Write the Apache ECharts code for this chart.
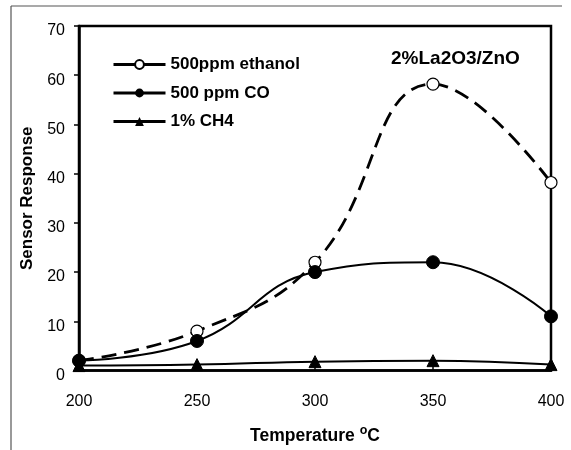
<!DOCTYPE html>
<html>
<head>
<meta charset="utf-8">
<script src="https://cdn.jsdelivr.net/npm/echarts@6/dist/echarts.min.js"></script>
<style>
html,body{margin:0;padding:0;background:#fff;}
#chart{width:571px;height:450px;}
</style>
</head>
<body>
<div id="chart"></div>
<script>
const temperatures = [200, 250, 300, 350, 400];
const ethanol = [2, 8, 22, 58.2, 38.2];
const co = [2, 6, 20, 22, 11];
const ch4 = [1, 1.2, 1.8, 2, 1.2];
const seriesNames = ['500ppm ethanol', '500 ppm CO', '1% CH4'];
const chartLabel = '2%La2O3/ZnO';

const F = '"Liberation Sans", Arial, sans-serif';
const pairs = arr => temperatures.map((t, i) => [t, arr[i]]);

const chart = echarts.init(document.getElementById('chart'), null, {renderer: 'canvas'});
chart.setOption({
  animation: false,
  backgroundColor: '#fff',
  title: {
    text: chartLabel,
    left: 386, top: 44,
    textStyle: {fontFamily: F, fontSize: 19, fontWeight: 'bold', color: '#000'}
  },
  grid: {
    left: 79, right: 20, top: 26, bottom: 77,
    show: true, borderColor: '#000', borderWidth: 2.5, backgroundColor: 'transparent'
  },
  legend: {
    orient: 'vertical', left: 112, top: 56, padding: 0,
    itemWidth: 52, itemHeight: 11, itemGap: 11.5,
    textStyle: {fontFamily: F, fontSize: 17, fontWeight: 'bold', color: '#000'},
    lineStyle: {type: 'solid', width: 3},
    data: seriesNames
  },
  xAxis: {
    type: 'value', min: 200, max: 400, interval: 50,
    name: 'Temperature {sup|o}C', nameLocation: 'middle', nameGap: 54,
    nameTextStyle: {
      fontFamily: F, fontSize: 17.5, fontWeight: 'bold', color: '#000',
      rich: {sup: {fontFamily: F, fontSize: 12.5, fontWeight: 'bold', color: '#000', padding: [0, 0, 10, 0]}}
    },
    axisLine: {show: true, lineStyle: {color: '#000', width: 2.5}},
    axisTick: {show: true, inside: true, length: 6, lineStyle: {color: '#000', width: 1.5}},
    axisLabel: {margin: 23, fontFamily: F, fontSize: 16, color: '#000'},
    splitLine: {show: false}
  },
  yAxis: {
    type: 'value', min: 0, max: 70, interval: 10,
    name: 'Sensor Response', nameLocation: 'middle', nameGap: 43,
    nameTextStyle: {fontFamily: F, fontSize: 17, fontWeight: 'bold', color: '#000'},
    axisLine: {show: true, lineStyle: {color: '#000', width: 2.5}},
    axisTick: {show: true, inside: false, length: 5, lineStyle: {color: '#000', width: 1.5}},
    axisLabel: {margin: 14, fontFamily: F, fontSize: 16, color: '#000', verticalAlign: 'top', lineHeight: 10},
    splitLine: {show: false}
  },
  graphic: [
    {type: 'line', shape: {x1: 11, y1: 6, x2: 11, y2: 450}, style: {stroke: '#555', lineWidth: 1.2}},
    {type: 'line', shape: {x1: 11, y1: 6, x2: 562, y2: 6}, style: {stroke: '#555', lineWidth: 1.2}}
  ],
  series: [
    {
      name: seriesNames[0], type: 'line', data: pairs(ethanol), smooth: 0.45,
      symbol: 'circle', symbolSize: 12, z: 3,
      lineStyle: {color: '#000', width: 2.8, type: [15, 8]},
      itemStyle: {color: '#fff', borderColor: '#000', borderWidth: 1.2}
    },
    {
      name: seriesNames[1], type: 'line', data: pairs(co), smooth: 0.45,
      symbol: 'circle', symbolSize: 13, z: 4,
      lineStyle: {color: '#000', width: 2},
      itemStyle: {color: '#000', borderColor: '#000'}
    },
    {
      name: seriesNames[2], type: 'line', data: pairs(ch4), smooth: 0.45,
      symbol: 'triangle', symbolSize: 12, z: 4,
      lineStyle: {color: '#000', width: 2},
      itemStyle: {color: '#000', borderColor: '#000'}
    }
  ]
});
</script>
</body>
</html>
